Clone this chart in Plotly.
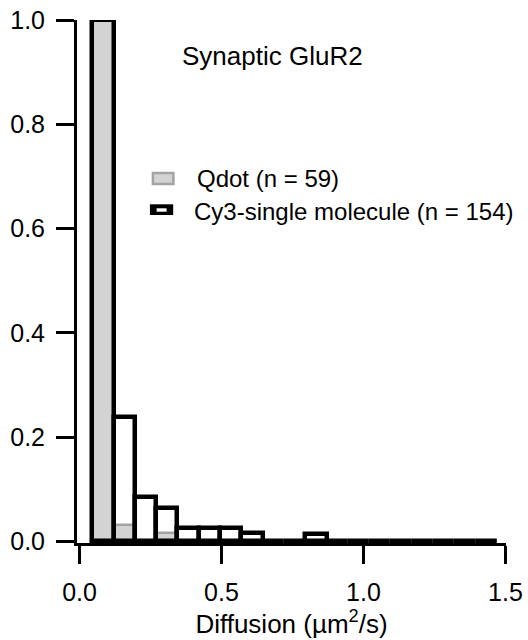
import plotly.graph_objects as go

# ---- data ----
bin_centers = [0.0825, 0.1575, 0.2325, 0.3075, 0.3825, 0.4575, 0.5325, 0.6075,
               0.6825, 0.7575, 0.8325, 0.9075, 0.9825, 1.0575, 1.1325, 1.2075,
               1.2825, 1.3575, 1.4325]
bin_width = 0.075
qdot_values = [1.0, 0.032, 0.0, 0.016, 0.0, 0.0, 0.0, 0.0, 0.0, 0.0,
               0.0, 0.0, 0.0, 0.0, 0.0, 0.0, 0.0, 0.0, 0.0]
cy3_values = [1.0, 0.238, 0.085, 0.064, 0.026, 0.026, 0.026, 0.016, 0.0, 0.0,
              0.014, 0.0, 0.0, 0.0, 0.0, 0.0, 0.0, 0.0, 0.0]
x_tick_vals = [0.0, 0.5, 1.0, 1.5]
x_tick_text = ["0.0", "0.5", "1.0", "1.5"]
y_tick_vals = [0.0, 0.2, 0.4, 0.6, 0.8, 1.0]
y_tick_text = ["0.0", "0.2", "0.4", "0.6", "0.8", "1.0"]
qdot_label = "Qdot (n = 59)"
cy3_label = "Cy3-single molecule (n = 154)"
title_text = "Synaptic GluR2"
x_title = "Diffusion (µm<sup>2</sup>/s)"

FONT = "Liberation Sans, Arial, sans-serif"
W, H = 528, 640
L, R, T, B = 77, 21.5, 20, 97
PW, PH = W - L - R, H - T - B


def px_x(px):
    return (px - L) / PW


def px_y(py):
    return (H - B - py) / PH


fig = go.Figure()
fig.add_trace(go.Bar(
    x=bin_centers, y=qdot_values, width=bin_width, name=qdot_label,
    marker=dict(color="#d3d3d3", line=dict(color="#a3a3a3", width=2.5)),
    cliponaxis=False, showlegend=False,
))
fig.add_trace(go.Bar(
    x=bin_centers, y=cy3_values, width=bin_width, name=cy3_label,
    marker=dict(color="rgba(0,0,0,0)", line=dict(color="black", width=4.5)),
    cliponaxis=False, showlegend=False,
))

axis_common = dict(
    showline=True, linecolor="black", linewidth=3,
    ticks="outside", ticklen=18, tickwidth=3, tickcolor="black",
    showgrid=False, zeroline=False, automargin=False,
    tickfont=dict(family=FONT, size=25, color="black"),
)
fig.update_xaxes(range=[-0.0088, 1.5019], tickvals=x_tick_vals, ticktext=x_tick_text,
                 ticklabelstandoff=7,
                 title=dict(text=x_title, font=dict(family=FONT, size=26, color="black"),
                            standoff=8),
                 **axis_common)
fig.update_yaxes(range=[-0.0029, 1.0], tickvals=y_tick_vals, ticktext=y_tick_text,
                 ticklabelstandoff=6, **axis_common)

# manual legend (swatches + text)
fig.add_shape(type="rect", xref="paper", yref="paper",
              x0=px_x(153), x1=px_x(173.5), y0=px_y(184), y1=px_y(173),
              fillcolor="#d3d3d3", line=dict(color="#a3a3a3", width=2.5))
fig.add_shape(type="rect", xref="paper", yref="paper",
              x0=px_x(150), x1=px_x(173.3), y0=px_y(215), y1=px_y(204.3),
              fillcolor="black", line=dict(width=0))
fig.add_shape(type="rect", xref="paper", yref="paper",
              x0=px_x(156.7), x1=px_x(166.7), y0=px_y(211.7), y1=px_y(208.3),
              fillcolor="white", line=dict(width=0))
fig.add_annotation(xref="paper", yref="paper", x=px_x(195), y=px_y(179),
                   xanchor="left", yanchor="middle", text=qdot_label, showarrow=False,
                   font=dict(family=FONT, size=24, color="black"))
fig.add_annotation(xref="paper", yref="paper", x=px_x(192), y=px_y(212),
                   xanchor="left", yanchor="middle", text=cy3_label, showarrow=False,
                   font=dict(family=FONT, size=24, color="black"))
fig.add_annotation(xref="paper", yref="paper", x=px_x(180), y=px_y(56),
                   xanchor="left", yanchor="middle", text=title_text, showarrow=False,
                   font=dict(family=FONT, size=26, color="black"))

fig.update_layout(
    width=W, height=H, autosize=False,
    margin=dict(l=L, r=R, t=T, b=B, pad=0),
    paper_bgcolor="white", plot_bgcolor="white",
    barmode="overlay", bargap=0,
    font=dict(family=FONT, size=24, color="black"),
)

fig.write_html("out.html", config={"displayModeBar": False},
               post_script="document.body.style.margin='0';document.body.style.overflow='hidden';")
